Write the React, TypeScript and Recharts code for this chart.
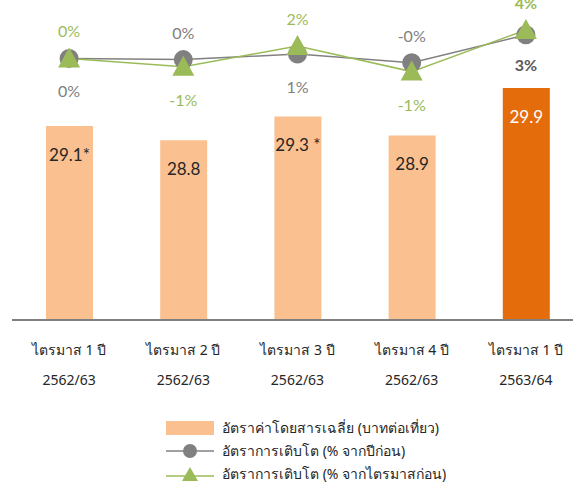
import { ComposedChart, Bar, Line, XAxis, YAxis, Cell, LabelList } from "recharts";

const quarters = ["ไตรมาส 1 ปี", "ไตรมาส 2 ปี", "ไตรมาส 3 ปี", "ไตรมาส 4 ปี", "ไตรมาส 1 ปี"];
const fiscalYears = ["2562/63", "2562/63", "2562/63", "2562/63", "2563/64"];
const avgFare = [29.1, 28.8, 29.3, 28.9, 29.9];
const fareLabels = ["29.1*", "28.8", "29.3 *", "28.9", "29.9"];
const growthYoY = [0.45, 0.3, 1.0, -0.1, 3.4];
const growthYoYLabels = ["0%", "0%", "1%", "-0%", "3%"];
const growthQoQ = [0.45, -0.6, 2.0, -1.2, 4.0];
const growthQoQLabels = ["0%", "-1%", "2%", "-1%", "4%"];

// label placement per point (style, not data)
const yoySide = ["below", "above", "below", "above", "below"];
const qoqSide = ["above", "below", "above", "below", "above"];

const data = quarters.map((q, i) => ({
  name: q,
  year: fiscalYears[i],
  fare: avgFare[i],
  yoy: growthYoY[i],
  qoq: growthQoQ[i],
}));

const FONT = "Tahoma, 'Noto Sans', 'DejaVu Sans', sans-serif";
const NUM_FONT = "Lato, 'Open Sans', sans-serif";
const LIGHT = "#fac090";
const DARK = "#e46c0a";
const GRAY = "#808080";
const GREEN = "#9bbb59";

const Tick = (props: any) => {
  const { x, y, payload, index } = props;
  return (
    <g fontFamily={FONT} fontSize={14} fill="#262626">
      <text x={x} y={y + 27} textAnchor="middle">
        {payload.value}
      </text>
      <text x={x} y={y + 57} textAnchor="middle">
        {fiscalYears[index]}
      </text>
    </g>
  );
};

const Triangle = (props: any) => {
  const { cx, cy } = props;
  if (cx == null || cy == null) return null;
  return <polygon points={`${cx},${cy - 11} ${cx - 11},${cy + 9} ${cx + 11},${cy + 9}`} fill={GREEN} />;
};

const makePointLabel = (labels: string[], sides: string[], color: string, lastColor: string) => (props: any) => {
  const { x, y, index } = props;
  const last = index === labels.length - 1;
  const dy = sides[index] === "above" ? -21 : last && color === GRAY ? 36 : 39;
  return (
    <text
      x={x}
      y={y + dy}
      textAnchor="middle"
      fontFamily={NUM_FONT}
      fontSize={16}
      fontWeight={last ? 700 : 400}
      fill={last ? lastColor : color}
    >
      {labels[index]}
    </text>
  );
};

const BarLabel = (props: any) => {
  const { x, y, width, index } = props;
  const last = index === fareLabels.length - 1;
  return (
    <text
      x={x + width / 2}
      y={y + 35}
      textAnchor="middle"
      fontFamily={NUM_FONT}
      fontSize={17}
      fill={last ? "#ffffff" : "#262626"}
    >
      {fareLabels[index]}
    </text>
  );
};

const legendItems = [
  { label: "อัตราค่าโดยสารเฉลี่ย (บาทต่อเที่ยว)", kind: "bar" },
  { label: "อัตราการเติบโต (% จากปีก่อน)", kind: "circle" },
  { label: "อัตราการเติบโต (% จากไตรมาสก่อน)", kind: "triangle" },
];

function LegendBox() {
  return (
    <div style={{ position: "absolute", left: 166, top: 416, fontFamily: FONT, fontSize: 14, color: "#262626" }}>
      {legendItems.map((it) => (
        <div key={it.label} style={{ display: "flex", alignItems: "center", height: 23 }}>
          <svg width={50} height={20} style={{ marginRight: 6 }}>
            {it.kind === "bar" && <rect x={0} y={3} width={48} height={14} fill={LIGHT} />}
            {it.kind === "circle" && (
              <g>
                <line x1={0} y1={10} x2={48} y2={10} stroke={GRAY} strokeWidth={1.5} />
                <circle cx={24} cy={10} r={7} fill={GRAY} />
              </g>
            )}
            {it.kind === "triangle" && (
              <g>
                <line x1={0} y1={12} x2={48} y2={12} stroke={GREEN} strokeWidth={1.5} />
                <polygon points="24,3 16,17 32,17" fill={GREEN} />
              </g>
            )}
          </svg>
          <span>{it.label}</span>
        </div>
      ))}
    </div>
  );
}

export default function App() {
  return (
    <div style={{ position: "absolute", left: 0, top: 0, width: 573, height: 492, overflow: "hidden", background: "#fff" }}>
      <ComposedChart
        width={583}
        height={492}
        data={data}
        margin={{ top: 10, right: 0, bottom: 112, left: 12 }}
        barCategoryGap={0}
      >
        <XAxis
          dataKey="name"
          xAxisId={0}
          axisLine={{ stroke: "#808080", strokeWidth: 2 }}
          tickLine={false}
          tick={<Tick />}
          height={60}
          interval={0}
        />
        <YAxis yAxisId="left" hide domain={[25, 31.55]} allowDataOverflow />
        <YAxis yAxisId="right" hide orientation="right" domain={[-32.25, 6.5]} allowDataOverflow />
        <Bar dataKey="fare" yAxisId="left" barSize={47} isAnimationActive={false}>
          {data.map((_, i) => (
            <Cell key={i} fill={i === data.length - 1 ? DARK : LIGHT} />
          ))}
          <LabelList dataKey="fare" content={<BarLabel />} />
        </Bar>
        <Line
          dataKey="yoy"
          yAxisId="right"
          stroke={GRAY}
          strokeWidth={1.5}
          dot={{ r: 9.5, fill: GRAY, stroke: "none" }}
          activeDot={false}
          isAnimationActive={false}
        >
          <LabelList dataKey="yoy" content={makePointLabel(growthYoYLabels, yoySide, GRAY, "#595959")} />
        </Line>
        <Line
          dataKey="qoq"
          yAxisId="right"
          stroke={GREEN}
          strokeWidth={1.5}
          dot={<Triangle />}
          activeDot={false}
          isAnimationActive={false}
        >
          <LabelList dataKey="qoq" content={makePointLabel(growthQoQLabels, qoqSide, GREEN, GREEN)} />
        </Line>
      </ComposedChart>
      <LegendBox />
    </div>
  );
}
